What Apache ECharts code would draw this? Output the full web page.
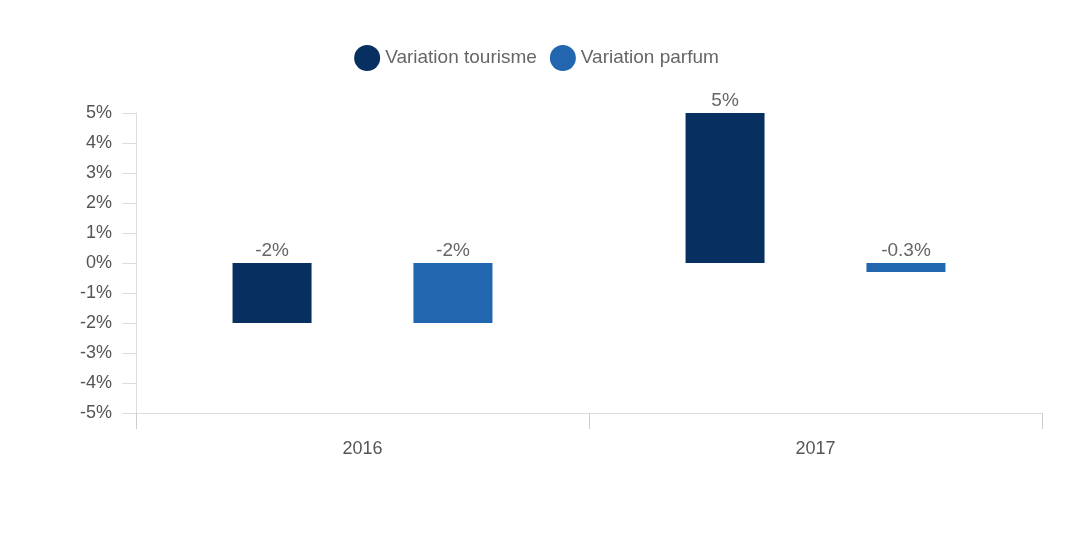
<!DOCTYPE html>
<html><head><meta charset="utf-8">
<script src="https://cdn.jsdelivr.net/npm/echarts@6/dist/echarts.min.js"></script>
<style>html,body{margin:0;padding:0;background:#fff}#c{width:1073px;height:536px}</style>
</head><body><div id="c"></div>
<script>
const categories = ['2016', '2017'];
const seriesNames = ['Variation tourisme', 'Variation parfum'];
const tourisme = [-2, 5];
const parfum = [-2, -0.3];
const colors = ['#072F5F', '#2166AE'];
const font = 'Liberation Sans, Arial, Helvetica, sans-serif';

const chart = echarts.init(document.getElementById('c'));
const labelCfg = {
  show: true, position: 'top', distance: 3,
  color: '#666', fontSize: 19, fontFamily: font,
  formatter: p => p.value + '%'
};
chart.setOption({
  animation: false,
  legend: {
    top: 40, left: 'center', icon: 'circle', itemWidth: 26, itemHeight: 26, itemGap: 13,
    textStyle: { color: '#666', fontSize: 19, fontFamily: font },
    data: seriesNames
  },
  grid: { left: 136, right: 31, top: 113, bottom: 123, containLabel: false },
  xAxis: {
    type: 'category', data: categories,
    axisLine: { show: true, onZero: false, lineStyle: { color: '#ddd' } },
    axisTick: { show: true, alignWithLabel: false, interval: 0, length: 16, lineStyle: { color: '#ccc' } },
    axisLabel: { color: '#555', fontSize: 18, fontFamily: font, margin: 27 }
  },
  yAxis: {
    type: 'value', min: -5, max: 5, interval: 1,
    axisLine: { show: true, lineStyle: { color: '#ddd' } },
    axisTick: { show: true, length: 14, lineStyle: { color: '#ddd' } },
    splitLine: { show: false },
    axisLabel: { color: '#555', fontSize: 18, fontFamily: font, margin: 24, formatter: '{value}%' }
  },
  series: [
    { name: seriesNames[0], type: 'bar', data: tourisme, itemStyle: { color: colors[0] },
      barWidth: 79, barGap: '129%', label: labelCfg },
    { name: seriesNames[1], type: 'bar', data: parfum, itemStyle: { color: colors[1] },
      barWidth: 79, barGap: '129%', label: labelCfg }
  ]
});
</script></body></html>
